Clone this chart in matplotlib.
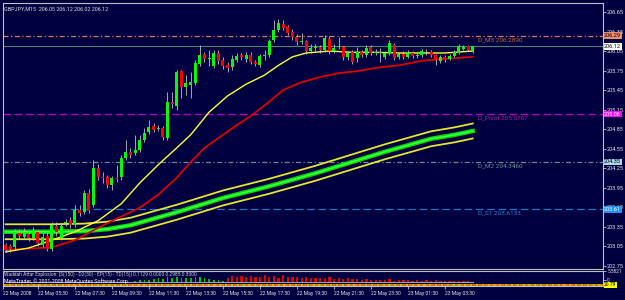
import numpy as np
import matplotlib.pyplot as plt
from matplotlib.transforms import blended_transform_factory

plt.rcParams['font.family'] = ['Roboto', 'DejaVu Sans']

# GBPJPY M15 candles, bar 0 = 22 May 03:45
opens = [203.07, 203.05, 203.03, 203.25, 203.19, 203.24, 203.17, 203.27, 203.07, 203.20,
         203.00, 203.36, 203.17, 203.40, 203.45, 203.37, 203.60, 203.57, 203.87, 203.68,
         204.25, 204.11, 204.11, 203.99, 204.10, 204.11, 204.40, 204.50, 204.48, 204.53,
         204.68, 204.80, 204.90, 204.85, 204.87, 204.71, 205.27, 205.20, 205.74, 205.50,
         205.53, 205.56, 205.85, 206.00, 205.93, 205.82, 206.02, 205.91, 205.83, 205.80,
         205.91, 205.99, 205.93, 205.99, 205.88, 205.83, 205.97, 205.99, 206.22, 206.37,
         206.47, 206.42, 206.34, 206.27, 206.19, 206.20, 206.05, 206.10, 206.11, 206.07,
         206.23, 206.05, 206.11, 206.11, 205.96, 206.03, 205.94, 206.03, 205.99, 206.11,
         206.02, 206.02, 205.96, 206.02, 206.14, 205.96, 206.00, 205.96, 206.02, 205.97,
         205.99, 206.03, 206.03, 205.99, 205.90, 205.96, 205.93, 205.97, 206.02, 206.08,
         206.13, 206.05]
highs = [203.10, 203.08, 203.31, 203.31, 203.33, 203.28, 203.34, 203.30, 203.25, 203.25,
         203.42, 203.42, 203.40, 203.47, 203.50, 203.68, 203.68, 203.91, 203.93, 204.37,
         204.31, 204.19, 204.14, 204.13, 204.30, 204.45, 204.68, 204.56, 204.76, 204.76,
         204.87, 204.99, 204.94, 204.91, 204.90, 205.42, 205.42, 205.76, 205.76, 205.68,
         205.73, 205.91, 206.14, 206.03, 206.07, 206.07, 206.07, 205.96, 205.88, 205.99,
         206.02, 206.02, 206.03, 206.03, 205.91, 206.00, 206.07, 206.23, 206.53, 206.54,
         206.53, 206.45, 206.39, 206.31, 206.33, 206.22, 206.16, 206.16, 206.14, 206.30,
         206.28, 206.16, 206.27, 206.13, 206.05, 206.07, 206.11, 206.07, 206.14, 206.14,
         206.08, 206.10, 206.05, 206.22, 206.17, 206.03, 206.05, 206.07, 206.05, 206.03,
         206.08, 206.08, 206.07, 206.00, 205.99, 205.99, 206.00, 206.07, 206.16, 206.14,
         206.14, 206.12]
lows = [202.96, 202.96, 203.00, 203.17, 203.16, 203.13, 203.14, 203.05, 203.03, 202.97,
        202.97, 203.20, 203.14, 203.36, 203.33, 203.34, 203.51, 203.54, 203.56, 203.65,
        204.07, 204.02, 203.94, 203.91, 204.03, 204.07, 204.37, 204.40, 204.45, 204.50,
        204.65, 204.77, 204.80, 204.82, 204.68, 204.68, 205.17, 205.14, 205.33, 205.37,
        205.33, 205.53, 205.82, 205.88, 205.82, 205.79, 205.85, 205.77, 205.73, 205.76,
        205.88, 205.91, 205.88, 205.85, 205.82, 205.80, 205.91, 205.96, 206.19, 206.34,
        206.37, 206.30, 206.22, 206.14, 206.16, 206.00, 206.02, 206.05, 206.02, 206.03,
        206.00, 206.02, 206.08, 205.91, 205.91, 205.85, 205.88, 205.96, 205.96, 205.99,
        205.99, 205.88, 205.93, 205.99, 205.91, 205.93, 205.93, 205.94, 205.94, 205.94,
        205.96, 205.99, 205.96, 205.83, 205.87, 205.88, 205.91, 205.96, 206.00, 206.07,
        206.05, 206.02]
closes = [202.99, 203.00, 203.27, 203.20, 203.27, 203.17, 203.30, 203.10, 203.19, 203.00,
          203.37, 203.27, 203.36, 203.42, 203.37, 203.60, 203.56, 203.87, 203.59, 204.25,
          204.11, 204.10, 203.99, 204.10, 204.08, 204.40, 204.50, 204.45, 204.53, 204.68,
          204.79, 204.88, 204.83, 204.87, 204.73, 205.27, 205.23, 205.73, 205.50, 205.56,
          205.57, 205.87, 205.99, 205.93, 205.94, 206.02, 205.90, 205.82, 205.79, 205.93,
          205.97, 205.96, 205.99, 205.88, 205.85, 205.97, 205.99, 206.20, 206.37, 206.48,
          206.40, 206.33, 206.27, 206.19, 206.20, 206.05, 206.10, 206.11, 206.07, 206.25,
          206.05, 206.10, 206.13, 205.96, 206.02, 205.88, 206.03, 205.99, 206.10, 206.02,
          206.03, 206.03, 206.02, 206.17, 205.94, 206.00, 205.96, 206.02, 205.97, 205.99,
          206.05, 206.04, 205.99, 205.91, 205.96, 205.91, 205.97, 206.03, 206.13, 206.11,
          206.07, 206.12]

# moving averages (bar index, price)
fast_bars = [0, 5, 10, 15, 20, 25, 29, 33, 37, 40, 44, 48, 52, 56, 59, 62, 65, 70, 75, 80, 85, 90, 95, 101]
fast_ma = [202.96, 203.02, 203.14, 203.27, 203.44, 203.70, 204.02, 204.30, 204.56, 204.76, 205.11, 205.36,
           205.54, 205.68, 205.83, 205.96, 206.02, 206.05, 206.03, 206.03, 206.02, 206.02, 206.02, 206.05]
slow_bars = [0, 10, 15, 20, 24, 29, 33, 37, 40, 43, 46, 50, 53, 57, 60, 64, 68, 72, 76, 80, 85, 90, 95, 101]
slow_ma = [202.99, 203.03, 203.14, 203.33, 203.47, 203.64, 203.84, 204.10, 204.34, 204.56, 204.71, 204.91,
           205.05, 205.27, 205.45, 205.57, 205.65, 205.71, 205.74, 205.79, 205.83, 205.90, 205.93, 205.96]
band_bars = [0, 10, 17, 22, 27, 32, 37, 42, 47, 52, 57, 62, 67, 72, 77, 82, 87, 92, 97, 101]
band_mid = [203.27, 203.27, 203.28, 203.31, 203.37, 203.47, 203.57, 203.68, 203.79, 203.88, 203.97, 204.07,
            204.17, 204.28, 204.39, 204.50, 204.60, 204.70, 204.76, 204.82]
band_upper = [p + 0.115 for p in band_mid]
band_lower = [p - 0.115 for p in band_mid]

# pivot levels
levels = [('D_M3 206.2890', 206.289, '206.29'), ('D_Pivot 205.0767', 205.0767, '205.08'),
          ('D_M2 204.3460', 204.346, '204.35'), ('D_S1 203.6133', 203.6133, '203.61')]
bid = 206.12

price_ticks = [202.75, 203.05, 203.35, 203.65, 203.95, 204.25, 204.55, 204.85, 205.15, 205.45, 205.75,
               206.05, 206.35, 206.65]
time_bars = [-0.6, 7, 15, 23, 31, 39, 47, 55, 63, 71, 79, 87, 95]
time_labels = ['22 May 2008', '22 May 05:30', '22 May 07:30', '22 May 09:30', '22 May 11:30',
               '22 May 13:30', '22 May 15:30', '22 May 17:30', '22 May 19:30', '22 May 21:30',
               '22 May 23:30', '23 May 01:30', '23 May 03:30']

# Waddah Attar Explosion histogram
green_start = 28
green_hist = [0.9, 1.2, 1.6, 1.4, 2.0, 2.3, 1.9, 2.6, 2.2, 2.8, 2.5, 2.1, 2.4, 2.9, 2.7, 2.2, 1.8, 1.5, 1.2, 0.9]
red_start = 48
red_hist = [2.4, 3.1, 2.7, 3.3, 2.9, 3.4, 2.6, 3.0, 3.5, 2.8, 3.2, 2.5, 3.6, 3.0, 2.7,
            2.9, 2.4, 2.6, 2.2, 2.5, 2.1, 2.3, 2.8, 2.0, 2.4, 1.9, 2.2, 1.7, 2.0,
            1.5, 1.8, 1.3, 1.6, 1.2, 1.5, 1.7, 1.1, 1.4, 1.2, 1.5, 1.0, 1.3, 1.1, 1.4,
            0.9, 1.2, 1.0, 0.8, 1.1, 0.9, 0.7, 1.0, 0.8, 0.6]

bg = '#000040'
grey = '#c0c0c0'
fs_price = 4.0

fig = plt.figure(figsize=(6.25, 3), dpi=100, facecolor=bg)
ax = fig.add_axes([3/625, 31/300, 600/625, 266/300], facecolor=bg)
xmin, xmax = -0.56, 129.17
ax.set_xlim(xmin, xmax)
ax.set_ylim(202.697, 206.789)

o = np.array(opens); c = np.array(closes)
idx = np.arange(len(o))
up = c >= o
ax.vlines(idx, lows, highs, colors=grey, lw=0.6, zorder=4)
ax.bar(idx, np.maximum(np.abs(c - o), 0.006), bottom=np.minimum(o, c), width=0.65,
       color=np.where(up, '#00ff00', '#ff0000'), lw=0, zorder=5)

ax.plot(band_bars, band_upper, color='#e6e632', lw=1.3, zorder=3)
ax.plot(band_bars, band_lower, color='#e6e632', lw=1.3, zorder=3)
ax.plot(band_bars, band_mid, color='#00e000', lw=3.2, zorder=3)
ax.plot(band_bars, band_mid, color='#40ff40', lw=1.2, zorder=3)
ax.plot(slow_bars, slow_ma, color='#e00000', lw=1.3, zorder=3)
ax.plot(fast_bars, fast_ma, color='#ffff30', lw=1.0, zorder=3)

styles = [('#d27a5a', (0, (4, 2, 1, 2)), '#c0683f', '#f08a72', 'black'),
          ('#c000c0', (0, (6, 3)), '#b020a0', '#ff00ff', 'white'),
          ('#6a8c8c', (0, (4, 2, 1, 2)), '#6a9090', '#a8d8e8', 'black'),
          ('#2078c0', (0, (6, 3)), '#3a80c0', '#2090ff', 'white')]
trans = blended_transform_factory(ax.transAxes, ax.transData)
for (name, val, short), (lc, ls, tc, bc, btc) in zip(levels, styles):
    ax.axhline(val, color=lc, ls=ls, lw=0.9, zorder=2)
    ax.text(102.2, val - 0.02, name, color=tc, fontsize=4.6, va='top', ha='left', zorder=6)
    ax.text(1.002, val, short, transform=trans, fontsize=fs_price, va='center', ha='left', color=btc,
            bbox=dict(boxstyle='square,pad=0.12', fc=bc, ec='none'), clip_on=False, zorder=10)
ax.axhline(bid, color='#4f8070', lw=0.8, zorder=2)
ax.text(1.002, bid, '206.12', transform=trans, fontsize=fs_price, va='center', ha='left', color='black',
        bbox=dict(boxstyle='square,pad=0.12', fc='white', ec='none'), clip_on=False, zorder=10)

ax.yaxis.tick_right()
ax.set_yticks(price_ticks)
ax.set_yticklabels([f'{p:.2f}' for p in price_ticks])
ax.tick_params(axis='y', colors=grey, labelcolor='#e8e8e8', labelsize=fs_price, length=2, width=0.6, pad=1)
ax.set_xticks([])
for s in ax.spines.values():
    s.set_color(grey)
    s.set_linewidth(0.8)

ax.text(0.002, 0.985, 'GBPJPY,M15  206.05 206.12 206.02 206.12', transform=ax.transAxes,
        fontsize=3.9, color='#e0e0e0', va='top', ha='left')

# indicator sub window
sub = fig.add_axes([3/625, 14/300, 600/625, 15/300], facecolor=bg)
sub.set_xlim(xmin, xmax)
sub.set_ylim(-1.4, 5.5821)
sub.bar(np.arange(green_start, green_start + len(green_hist)), green_hist, width=0.35, color='#00c000', lw=0)
sub.bar(np.arange(red_start, red_start + len(red_hist)), red_hist, width=0.5, color='#e00000', lw=0)
sub.plot([0, 101], [0.3, 0.3], color='#a0a0a0', lw=0.8)
sub.axhline(-0.9, color='#c8c800', ls=(0, (1.5, 1.5)), lw=1.4)
sub.axhline(-0.9, color='#ff7000', ls=(1.5, (1.5, 1.5)), lw=1.4)
sub.text(0.002, 0.97, 'Waddah Attar Explosion: [S(150) - D2(30) - EP(15) - TD(15)] 0.1129 0.0000 0.2985 0.3000',
         transform=sub.transAxes, fontsize=3.5, color='#d0d0d0', va='top', ha='left')
sub.text(0.002, 0.33, 'MetaTrader, \u00a9 2001-2008 MetaQuotes Software Corp.', transform=sub.transAxes,
         fontsize=3.8, color='white', va='center', ha='left')
sub.yaxis.tick_right()
sub.set_yticks([5.5821, 1.6])
sub.set_yticklabels(['5.5821', '0'])
sub.tick_params(axis='y', colors=grey, labelcolor='#e8e8e8', labelsize=3.4, length=2, width=0.6, pad=1)
strans = blended_transform_factory(sub.transAxes, sub.transData)
sub.text(1.002, -0.9, '20.79', transform=strans, fontsize=3.6, va='center', ha='left', color='black',
         bbox=dict(boxstyle='square,pad=0.08', fc='#ffff00', ec='none'), clip_on=False, zorder=10)
sub.set_xticks(time_bars)
sub.set_xticklabels(time_labels, ha='left')
sub.tick_params(axis='x', colors=grey, labelcolor='#e8e8e8', labelsize=3.6, length=2, width=0.6, pad=1.5)
for s in sub.spines.values():
    s.set_color(grey)
    s.set_linewidth(0.8)

fig.savefig('out.png', dpi=100, facecolor=bg)
